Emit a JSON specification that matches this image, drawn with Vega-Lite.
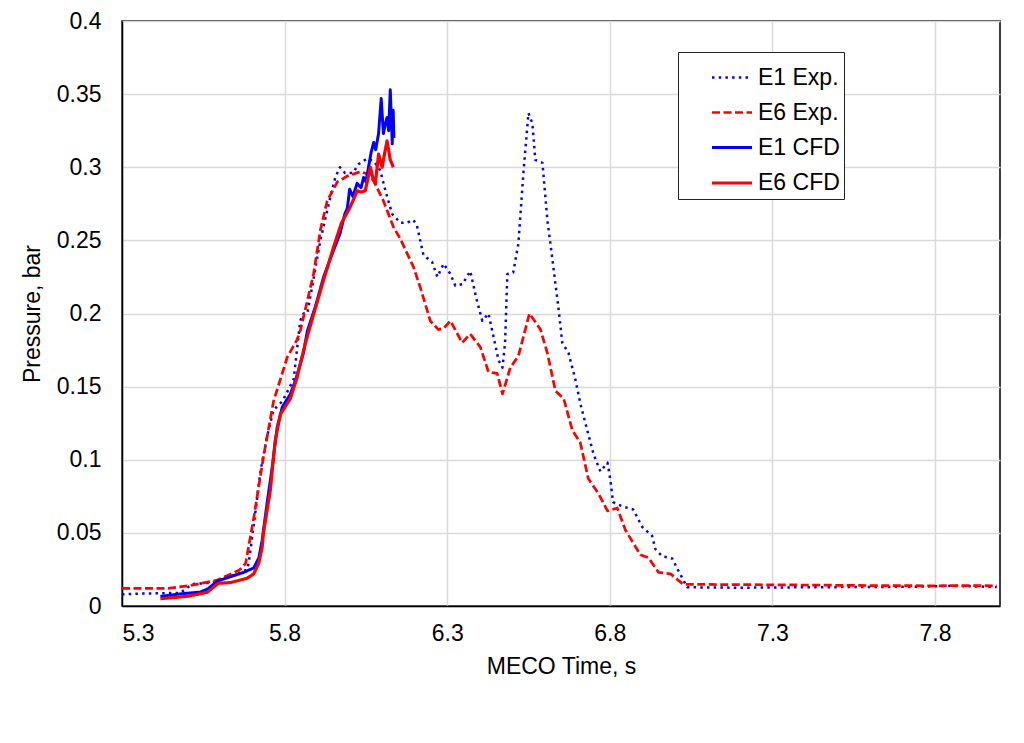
{
  "$schema": "https://vega.github.io/schema/vega-lite/v6.json",
  "description": "Pressure vs MECO time, experiment and CFD",
  "width": 878,
  "height": 585,
  "autosize": {"type": "none"},
  "padding": {"left": 122, "top": 21, "right": 24, "bottom": 137},
  "background": "white",
  "config": {
    "font": "Liberation Sans",
    "view": {"stroke": "black", "strokeWidth": 1.5},
    "axis": {
      "labelFont": "Liberation Sans",
      "labelFontSize": 23,
      "labelColor": "black",
      "titleFont": "Liberation Sans",
      "titleFontSize": 23,
      "titleFontWeight": "normal",
      "titleColor": "black",
      "gridColor": "#d9d9d9",
      "gridWidth": 1.5,
      "ticks": false,
      "domainColor": "black",
      "domainWidth": 1.5
    }
  },
  "data": {
    "values": [
      {"s": "E1 Exp.", "t": 5.30, "p": 0.008},
      {"s": "E1 Exp.", "t": 5.36, "p": 0.0085},
      {"s": "E1 Exp.", "t": 5.48, "p": 0.009},
      {"s": "E1 Exp.", "t": 5.516, "p": 0.015},
      {"s": "E1 Exp.", "t": 5.58, "p": 0.016},
      {"s": "E1 Exp.", "t": 5.655, "p": 0.022},
      {"s": "E1 Exp.", "t": 5.685, "p": 0.025},
      {"s": "E1 Exp.", "t": 5.69, "p": 0.03},
      {"s": "E1 Exp.", "t": 5.705, "p": 0.055},
      {"s": "E1 Exp.", "t": 5.725, "p": 0.091},
      {"s": "E1 Exp.", "t": 5.745, "p": 0.115},
      {"s": "E1 Exp.", "t": 5.766, "p": 0.134},
      {"s": "E1 Exp.", "t": 5.793, "p": 0.14},
      {"s": "E1 Exp.", "t": 5.828, "p": 0.155},
      {"s": "E1 Exp.", "t": 5.848, "p": 0.195},
      {"s": "E1 Exp.", "t": 5.858, "p": 0.2},
      {"s": "E1 Exp.", "t": 5.87, "p": 0.2},
      {"s": "E1 Exp.", "t": 5.89, "p": 0.225},
      {"s": "E1 Exp.", "t": 5.91, "p": 0.25},
      {"s": "E1 Exp.", "t": 5.94, "p": 0.279},
      {"s": "E1 Exp.", "t": 5.956, "p": 0.293},
      {"s": "E1 Exp.", "t": 5.97, "p": 0.3},
      {"s": "E1 Exp.", "t": 5.986, "p": 0.296},
      {"s": "E1 Exp.", "t": 6.01, "p": 0.296},
      {"s": "E1 Exp.", "t": 6.027, "p": 0.302},
      {"s": "E1 Exp.", "t": 6.054, "p": 0.306},
      {"s": "E1 Exp.", "t": 6.075, "p": 0.304},
      {"s": "E1 Exp.", "t": 6.094, "p": 0.298},
      {"s": "E1 Exp.", "t": 6.11, "p": 0.284},
      {"s": "E1 Exp.", "t": 6.131, "p": 0.268},
      {"s": "E1 Exp.", "t": 6.156, "p": 0.262},
      {"s": "E1 Exp.", "t": 6.175, "p": 0.262},
      {"s": "E1 Exp.", "t": 6.196, "p": 0.264},
      {"s": "E1 Exp.", "t": 6.207, "p": 0.26},
      {"s": "E1 Exp.", "t": 6.227, "p": 0.24},
      {"s": "E1 Exp.", "t": 6.254, "p": 0.235},
      {"s": "E1 Exp.", "t": 6.27, "p": 0.225},
      {"s": "E1 Exp.", "t": 6.289, "p": 0.234},
      {"s": "E1 Exp.", "t": 6.31, "p": 0.227},
      {"s": "E1 Exp.", "t": 6.325, "p": 0.219},
      {"s": "E1 Exp.", "t": 6.347, "p": 0.22},
      {"s": "E1 Exp.", "t": 6.371, "p": 0.229},
      {"s": "E1 Exp.", "t": 6.39, "p": 0.21},
      {"s": "E1 Exp.", "t": 6.408, "p": 0.195},
      {"s": "E1 Exp.", "t": 6.427, "p": 0.2},
      {"s": "E1 Exp.", "t": 6.458, "p": 0.168},
      {"s": "E1 Exp.", "t": 6.47, "p": 0.163},
      {"s": "E1 Exp.", "t": 6.478, "p": 0.18},
      {"s": "E1 Exp.", "t": 6.485, "p": 0.227},
      {"s": "E1 Exp.", "t": 6.503, "p": 0.228},
      {"s": "E1 Exp.", "t": 6.519, "p": 0.248},
      {"s": "E1 Exp.", "t": 6.535, "p": 0.298},
      {"s": "E1 Exp.", "t": 6.55, "p": 0.337},
      {"s": "E1 Exp.", "t": 6.562, "p": 0.33},
      {"s": "E1 Exp.", "t": 6.571, "p": 0.305},
      {"s": "E1 Exp.", "t": 6.593, "p": 0.303},
      {"s": "E1 Exp.", "t": 6.608, "p": 0.264},
      {"s": "E1 Exp.", "t": 6.623, "p": 0.238},
      {"s": "E1 Exp.", "t": 6.642, "p": 0.204},
      {"s": "E1 Exp.", "t": 6.654, "p": 0.18},
      {"s": "E1 Exp.", "t": 6.673, "p": 0.173},
      {"s": "E1 Exp.", "t": 6.694, "p": 0.155},
      {"s": "E1 Exp.", "t": 6.71, "p": 0.138},
      {"s": "E1 Exp.", "t": 6.725, "p": 0.125},
      {"s": "E1 Exp.", "t": 6.75, "p": 0.104},
      {"s": "E1 Exp.", "t": 6.771, "p": 0.092},
      {"s": "E1 Exp.", "t": 6.793, "p": 0.098},
      {"s": "E1 Exp.", "t": 6.802, "p": 0.086},
      {"s": "E1 Exp.", "t": 6.81, "p": 0.071},
      {"s": "E1 Exp.", "t": 6.84, "p": 0.068},
      {"s": "E1 Exp.", "t": 6.872, "p": 0.066},
      {"s": "E1 Exp.", "t": 6.9, "p": 0.054},
      {"s": "E1 Exp.", "t": 6.93, "p": 0.048},
      {"s": "E1 Exp.", "t": 6.94, "p": 0.039},
      {"s": "E1 Exp.", "t": 6.961, "p": 0.034},
      {"s": "E1 Exp.", "t": 6.992, "p": 0.0325},
      {"s": "E1 Exp.", "t": 7.01, "p": 0.0245},
      {"s": "E1 Exp.", "t": 7.038, "p": 0.0128},
      {"s": "E1 Exp.", "t": 7.2, "p": 0.0125},
      {"s": "E1 Exp.", "t": 7.4, "p": 0.0128},
      {"s": "E1 Exp.", "t": 7.6, "p": 0.013},
      {"s": "E1 Exp.", "t": 7.75, "p": 0.0132},
      {"s": "E1 Exp.", "t": 7.85, "p": 0.0138},
      {"s": "E1 Exp.", "t": 7.99, "p": 0.013},

      {"s": "E6 Exp.", "t": 5.30, "p": 0.012},
      {"s": "E6 Exp.", "t": 5.44, "p": 0.012},
      {"s": "E6 Exp.", "t": 5.51, "p": 0.014},
      {"s": "E6 Exp.", "t": 5.59, "p": 0.0175},
      {"s": "E6 Exp.", "t": 5.66, "p": 0.0244},
      {"s": "E6 Exp.", "t": 5.68, "p": 0.029},
      {"s": "E6 Exp.", "t": 5.705, "p": 0.06},
      {"s": "E6 Exp.", "t": 5.735, "p": 0.102},
      {"s": "E6 Exp.", "t": 5.766, "p": 0.14},
      {"s": "E6 Exp.", "t": 5.808, "p": 0.17},
      {"s": "E6 Exp.", "t": 5.838, "p": 0.182},
      {"s": "E6 Exp.", "t": 5.848, "p": 0.188},
      {"s": "E6 Exp.", "t": 5.889, "p": 0.227},
      {"s": "E6 Exp.", "t": 5.91, "p": 0.257},
      {"s": "E6 Exp.", "t": 5.931, "p": 0.277},
      {"s": "E6 Exp.", "t": 5.962, "p": 0.29},
      {"s": "E6 Exp.", "t": 5.993, "p": 0.294},
      {"s": "E6 Exp.", "t": 6.033, "p": 0.297},
      {"s": "E6 Exp.", "t": 6.06, "p": 0.295},
      {"s": "E6 Exp.", "t": 6.073, "p": 0.291},
      {"s": "E6 Exp.", "t": 6.104, "p": 0.277},
      {"s": "E6 Exp.", "t": 6.135, "p": 0.259},
      {"s": "E6 Exp.", "t": 6.156, "p": 0.251},
      {"s": "E6 Exp.", "t": 6.196, "p": 0.232},
      {"s": "E6 Exp.", "t": 6.217, "p": 0.218},
      {"s": "E6 Exp.", "t": 6.248, "p": 0.195},
      {"s": "E6 Exp.", "t": 6.273, "p": 0.189},
      {"s": "E6 Exp.", "t": 6.29, "p": 0.19},
      {"s": "E6 Exp.", "t": 6.31, "p": 0.195},
      {"s": "E6 Exp.", "t": 6.346, "p": 0.18},
      {"s": "E6 Exp.", "t": 6.371, "p": 0.186},
      {"s": "E6 Exp.", "t": 6.402, "p": 0.177},
      {"s": "E6 Exp.", "t": 6.427, "p": 0.16},
      {"s": "E6 Exp.", "t": 6.454, "p": 0.159},
      {"s": "E6 Exp.", "t": 6.47, "p": 0.145},
      {"s": "E6 Exp.", "t": 6.494, "p": 0.163},
      {"s": "E6 Exp.", "t": 6.519, "p": 0.171},
      {"s": "E6 Exp.", "t": 6.553, "p": 0.2},
      {"s": "E6 Exp.", "t": 6.587, "p": 0.189},
      {"s": "E6 Exp.", "t": 6.608, "p": 0.173},
      {"s": "E6 Exp.", "t": 6.633, "p": 0.147},
      {"s": "E6 Exp.", "t": 6.658, "p": 0.142},
      {"s": "E6 Exp.", "t": 6.685, "p": 0.12},
      {"s": "E6 Exp.", "t": 6.709, "p": 0.112},
      {"s": "E6 Exp.", "t": 6.734, "p": 0.087},
      {"s": "E6 Exp.", "t": 6.765, "p": 0.077},
      {"s": "E6 Exp.", "t": 6.793, "p": 0.065},
      {"s": "E6 Exp.", "t": 6.823, "p": 0.067},
      {"s": "E6 Exp.", "t": 6.848, "p": 0.052},
      {"s": "E6 Exp.", "t": 6.894, "p": 0.035},
      {"s": "E6 Exp.", "t": 6.919, "p": 0.033},
      {"s": "E6 Exp.", "t": 6.95, "p": 0.023},
      {"s": "E6 Exp.", "t": 6.987, "p": 0.022},
      {"s": "E6 Exp.", "t": 7.026, "p": 0.0148},
      {"s": "E6 Exp.", "t": 7.3, "p": 0.0145},
      {"s": "E6 Exp.", "t": 7.6, "p": 0.014},
      {"s": "E6 Exp.", "t": 7.8, "p": 0.0138},
      {"s": "E6 Exp.", "t": 7.9, "p": 0.014},
      {"s": "E6 Exp.", "t": 7.99, "p": 0.0138},

      {"s": "E1 CFD", "t": 5.418, "p": 0.0066},
      {"s": "E1 CFD", "t": 5.489, "p": 0.0085},
      {"s": "E1 CFD", "t": 5.541, "p": 0.0095},
      {"s": "E1 CFD", "t": 5.566, "p": 0.012},
      {"s": "E1 CFD", "t": 5.593, "p": 0.017},
      {"s": "E1 CFD", "t": 5.633, "p": 0.02},
      {"s": "E1 CFD", "t": 5.674, "p": 0.023},
      {"s": "E1 CFD", "t": 5.705, "p": 0.026},
      {"s": "E1 CFD", "t": 5.721, "p": 0.033},
      {"s": "E1 CFD", "t": 5.731, "p": 0.045},
      {"s": "E1 CFD", "t": 5.746, "p": 0.07},
      {"s": "E1 CFD", "t": 5.762, "p": 0.095},
      {"s": "E1 CFD", "t": 5.777, "p": 0.122},
      {"s": "E1 CFD", "t": 5.793, "p": 0.136},
      {"s": "E1 CFD", "t": 5.818, "p": 0.145},
      {"s": "E1 CFD", "t": 5.833, "p": 0.154},
      {"s": "E1 CFD", "t": 5.858, "p": 0.173},
      {"s": "E1 CFD", "t": 5.87, "p": 0.188},
      {"s": "E1 CFD", "t": 5.895, "p": 0.205},
      {"s": "E1 CFD", "t": 5.92, "p": 0.225},
      {"s": "E1 CFD", "t": 5.945, "p": 0.24},
      {"s": "E1 CFD", "t": 5.971, "p": 0.255},
      {"s": "E1 CFD", "t": 5.985, "p": 0.268},
      {"s": "E1 CFD", "t": 5.993, "p": 0.272},
      {"s": "E1 CFD", "t": 6.0, "p": 0.285},
      {"s": "E1 CFD", "t": 6.01, "p": 0.28},
      {"s": "E1 CFD", "t": 6.023, "p": 0.289},
      {"s": "E1 CFD", "t": 6.035, "p": 0.286},
      {"s": "E1 CFD", "t": 6.043, "p": 0.293},
      {"s": "E1 CFD", "t": 6.05, "p": 0.29},
      {"s": "E1 CFD", "t": 6.058, "p": 0.3},
      {"s": "E1 CFD", "t": 6.066, "p": 0.31},
      {"s": "E1 CFD", "t": 6.074, "p": 0.317},
      {"s": "E1 CFD", "t": 6.08, "p": 0.312},
      {"s": "E1 CFD", "t": 6.089, "p": 0.323},
      {"s": "E1 CFD", "t": 6.097, "p": 0.347},
      {"s": "E1 CFD", "t": 6.104, "p": 0.323},
      {"s": "E1 CFD", "t": 6.11, "p": 0.33},
      {"s": "E1 CFD", "t": 6.115, "p": 0.334},
      {"s": "E1 CFD", "t": 6.12, "p": 0.325},
      {"s": "E1 CFD", "t": 6.125, "p": 0.353},
      {"s": "E1 CFD", "t": 6.131, "p": 0.316},
      {"s": "E1 CFD", "t": 6.134, "p": 0.339},
      {"s": "E1 CFD", "t": 6.136, "p": 0.32},

      {"s": "E6 CFD", "t": 5.418, "p": 0.005},
      {"s": "E6 CFD", "t": 5.5, "p": 0.0066},
      {"s": "E6 CFD", "t": 5.562, "p": 0.0094},
      {"s": "E6 CFD", "t": 5.596, "p": 0.0155},
      {"s": "E6 CFD", "t": 5.633, "p": 0.016},
      {"s": "E6 CFD", "t": 5.685, "p": 0.019},
      {"s": "E6 CFD", "t": 5.705, "p": 0.022},
      {"s": "E6 CFD", "t": 5.72, "p": 0.029},
      {"s": "E6 CFD", "t": 5.731, "p": 0.04},
      {"s": "E6 CFD", "t": 5.735, "p": 0.05},
      {"s": "E6 CFD", "t": 5.756, "p": 0.079},
      {"s": "E6 CFD", "t": 5.771, "p": 0.113},
      {"s": "E6 CFD", "t": 5.787, "p": 0.131},
      {"s": "E6 CFD", "t": 5.818, "p": 0.142},
      {"s": "E6 CFD", "t": 5.838, "p": 0.156},
      {"s": "E6 CFD", "t": 5.863, "p": 0.179},
      {"s": "E6 CFD", "t": 5.89, "p": 0.2},
      {"s": "E6 CFD", "t": 5.92, "p": 0.223},
      {"s": "E6 CFD", "t": 5.95, "p": 0.245},
      {"s": "E6 CFD", "t": 5.975, "p": 0.262},
      {"s": "E6 CFD", "t": 6.0, "p": 0.272},
      {"s": "E6 CFD", "t": 6.012, "p": 0.278},
      {"s": "E6 CFD", "t": 6.023, "p": 0.284},
      {"s": "E6 CFD", "t": 6.035, "p": 0.283},
      {"s": "E6 CFD", "t": 6.048, "p": 0.284},
      {"s": "E6 CFD", "t": 6.056, "p": 0.292},
      {"s": "E6 CFD", "t": 6.064, "p": 0.3},
      {"s": "E6 CFD", "t": 6.072, "p": 0.292},
      {"s": "E6 CFD", "t": 6.079, "p": 0.289},
      {"s": "E6 CFD", "t": 6.089, "p": 0.309},
      {"s": "E6 CFD", "t": 6.1, "p": 0.3},
      {"s": "E6 CFD", "t": 6.108, "p": 0.31},
      {"s": "E6 CFD", "t": 6.115, "p": 0.318},
      {"s": "E6 CFD", "t": 6.125, "p": 0.305},
      {"s": "E6 CFD", "t": 6.131, "p": 0.302},
      {"s": "E6 CFD", "t": 6.134, "p": 0.3}
    ]
  },
  "mark": {"type": "line", "strokeCap": "butt", "strokeJoin": "round"},
  "encoding": {
    "x": {
      "field": "t",
      "type": "quantitative",
      "scale": {"domain": [5.3, 8.0], "nice": false, "zero": false},
      "axis": {
        "values": [5.3, 5.8, 6.3, 6.8, 7.3, 7.8],
        "format": ".1f",
        "title": "MECO Time, s",
        "labelPadding": 16,
        "titlePadding": 10
      }
    },
    "y": {
      "field": "p",
      "type": "quantitative",
      "scale": {"domain": [0, 0.4], "nice": false},
      "axis": {
        "values": [0, 0.05, 0.1, 0.15, 0.2, 0.25, 0.3, 0.35, 0.4],
        "format": ".2~f",
        "title": "Pressure, bar",
        "labelPadding": 21,
        "titlePadding": 12
      }
    },
    "color": {
      "field": "s",
      "type": "nominal",
      "scale": {
        "domain": ["E1 Exp.", "E6 Exp.", "E1 CFD", "E6 CFD"],
        "range": ["#0000ff", "#ff0000", "#0000ff", "#ff0000"]
      },
      "legend": {
        "title": null,
        "orient": "none",
        "legendX": 556,
        "legendY": 31,
        "strokeColor": "#222222",
        "fillColor": "white",
        "padding": 4,
        "symbolType": "stroke",
        "symbolSize": 1600,
        "labelFont": "Liberation Sans",
        "labelFontSize": 23,
        "labelColor": "black",
        "labelOffset": 4,
        "symbolOffset": 28,
        "rowPadding": 1
      }
    },
    "strokeDash": {
      "field": "s",
      "type": "nominal",
      "scale": {
        "domain": ["E1 Exp.", "E6 Exp.", "E1 CFD", "E6 CFD"],
        "range": [[2.5, 4.2], [8, 3.5], [1, 0], [1, 0]]
      }
    },
    "strokeWidth": {
      "field": "s",
      "type": "nominal",
      "scale": {
        "domain": ["E1 Exp.", "E6 Exp.", "E1 CFD", "E6 CFD"],
        "range": [2.5, 3.2, 2.3, 2.3]
      }
    }
  }
}
